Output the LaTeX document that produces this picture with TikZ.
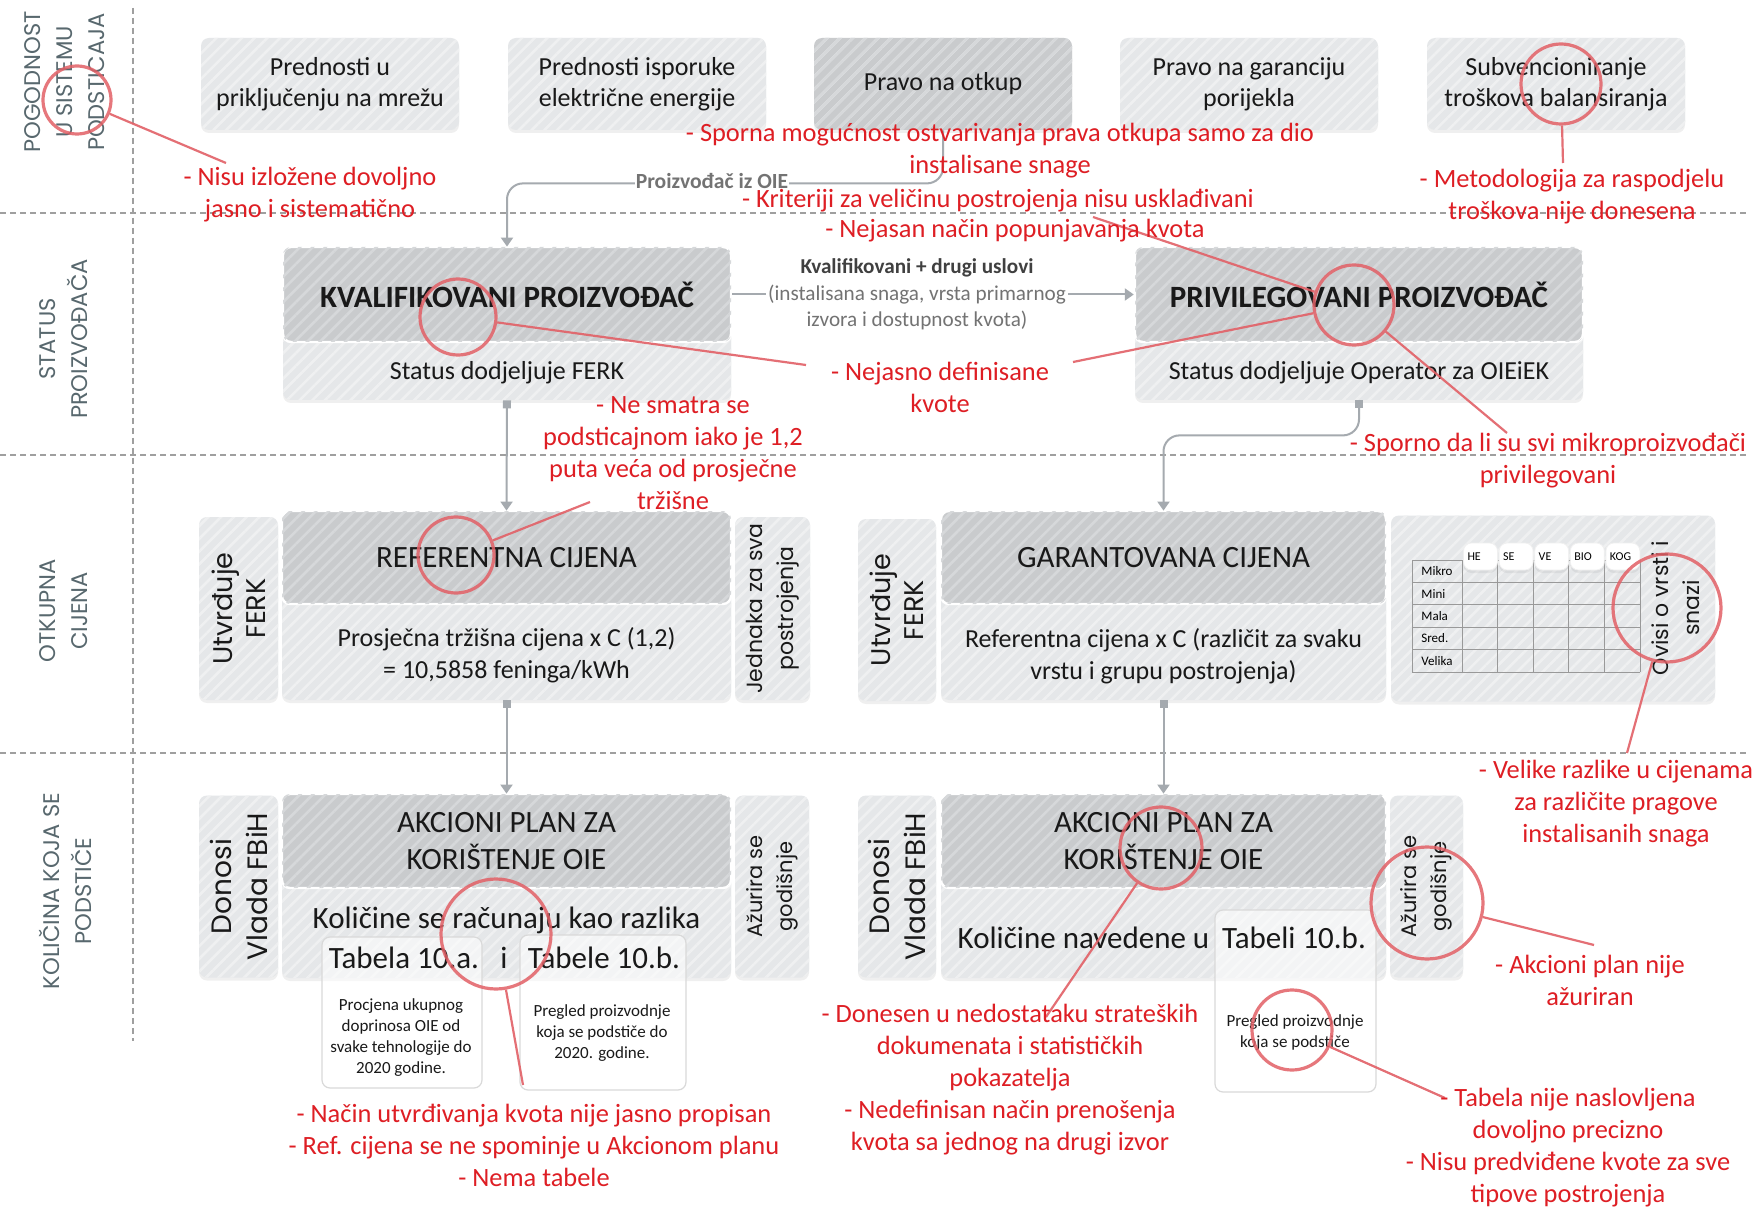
\documentclass[tikz,border=0pt]{standalone}
\usepackage{fontspec}
\setmainfont{Carlito}
\newfontfamily\gothic{Poppins}
\usetikzlibrary{positioning,arrows.meta,patterns.meta,shadows}

\definecolor{boxlight}{RGB}{229,231,233}
\definecolor{boxdark}{RGB}{201,203,205}
\definecolor{stripelight}{RGB}{239,240,241}
\definecolor{stripedark}{RGB}{214,216,218}
\definecolor{notered}{RGB}{222,30,36}
\definecolor{markred}{RGB}{226,96,102}
\definecolor{conngray}{RGB}{165,170,175}
\definecolor{secgray}{RGB}{88,104,110}
\definecolor{midgray}{RGB}{115,115,115}
\definecolor{textdark}{RGB}{25,25,25}

\newcommand{\fsz}[2]{\fontsize{#1}{#2}\selectfont}

\tikzset{
  hatch/.style={postaction={pattern={Lines[angle=45,distance=4.5pt,line width=1.3pt]}, pattern color=#1}},
  soft/.style={drop shadow={shadow xshift=0pt, shadow yshift=-1.5pt, opacity=0.12}},
  lightbox/.style={rounded corners=4pt, fill=boxlight, hatch=stripelight, soft, inner sep=0pt, text=textdark, align=center},
  darkbox/.style={rounded corners=4pt, fill=boxdark, hatch=stripedark, draw=white, line width=1.2pt, inner sep=0pt, text=textdark, align=center},
  topbox/.style={lightbox, minimum width=129pt, minimum height=46pt, font=\fsz{13}{15.7}},
  card/.style={rounded corners=4pt, fill=white, fill opacity=0.55, draw=gray!30, line width=0.6pt, inner sep=0pt},
  big/.style={inner sep=0pt, text=textdark, font=\fsz{15.5}{18}},
  subtext/.style={inner sep=0pt, text=textdark, align=center, font=\fsz{13}{16}},
  tiny/.style={inner sep=0pt, text=textdark, align=center, font=\fsz{8.5}{10.5}},
  sectionlbl/.style={rotate=90, align=center, inner sep=0pt, text=secgray, font=\gothic\fsz{11.3}{16}},
  sidelbl/.style={rotate=90, align=center, inner sep=0pt, text=textdark},
  conn/.style={draw=conngray, line width=1pt, rounded corners=8pt, -{Triangle[width=6pt,length=4.5pt]}},
  sqconn/.style={conn, {Square[length=4pt,width=4pt]}-{Triangle[width=6pt,length=4.5pt]}},
  divider/.style={draw=gray!75, dash pattern=on 3pt off 2pt, line width=0.7pt},
  note/.style={inner sep=0pt, text=notered, align=center, font=\fsz{13.2}{16}},
  ring/.style={circle, draw=markred, draw opacity=0.85, line width=1.6pt, inner sep=0pt},
  callout/.style={draw=markred, draw opacity=0.9, line width=1.1pt},
  gridline/.style={draw=gray!80, line width=0.5pt},
  pill/.style={rounded corners=4pt, fill=white, draw=gray!12, soft, inner sep=2pt, text width=13pt, align=left, minimum height=13.5pt, font=\fsz{6}{7}}
}

\begin{document}
\begin{tikzpicture}[x=0.5pt, y=-0.5pt]
        % Draw paper background
        \fill[white] (0,0) rectangle (1758,1209);
        \useasboundingbox (0,0) rectangle (1758,1209);

        % Draw the dashed dividers
        \draw[divider] (0,213) -- (1748,213);
        \draw[divider] (0,455) -- (1748,455);
        \draw[divider] (0,753) -- (1748,753);
        \draw[divider] (133,8) -- (133,1041);

        % Draw section labels
        \node[sectionlbl] (secPog) at (65,82) {POGODNOST\\U SISTEMU\\PODSTICAJA};
        \node[sectionlbl] (secStat) at (64,339) {STATUS\\PROIZVOĐAČA};
        \node[sectionlbl] (secOtk) at (64,611) {OTKUPNA\\CIJENA};
        \node[sectionlbl] (secKol) at (65,891) {KOLIČINA KOJA SE\\PODSTIČE};

        % Draw benefit boxes
        \node[topbox] (pmreza) at (330,84) {Prednosti u\\priključenju na mrežu};
        \node[topbox] (pisporuka) at (637,84) {Prednosti isporuke\\električne energije};
        \node[topbox, fill=boxdark, hatch=stripedark] (potkup) at (943,84) {Pravo na otkup};
        \node[topbox] (pgarancija) at (1249,84) {Pravo na garanciju\\porijekla};
        \node[topbox] (psubv) at (1556,84) {Subvencioniranje\\troškova balansiranja};

        % Draw producer status
        \node[lightbox, minimum width=224pt, minimum height=76.5pt] (kval) at (507,323.5) {};
        \node[darkbox, minimum width=224pt, minimum height=47.5pt, font=\bfseries\fsz{15.5}{18}] (kvalT) at (507,294.5) {KVALIFIKOVANI PROIZVOĐAČ};
        \node[subtext] (kvalS) at (507,373) {Status dodjeljuje FERK};
        \node[lightbox, minimum width=224pt, minimum height=76.5pt] (priv) at (1359,323.5) {};
        \node[darkbox, minimum width=224pt, minimum height=47.5pt, font=\bfseries\fsz{15.5}{18}] (privT) at (1359,294.5) {PRIVILEGOVANI PROIZVOĐAČ};
        \node[subtext] (privS) at (1359,373) {Status dodjeljuje Operator za OIEiEK};

        % Draw purchase price
        \node[lightbox, rotate=90, minimum width=91.5pt, minimum height=39.5pt, font=\gothic\fsz{13.5}{16.5}] (refL) at (238.5,608.5) {Utvrđuje\\FERK};
        \node[lightbox, minimum width=224.5pt, minimum height=94.5pt] (ref) at (506.5,605.5) {};
        \node[darkbox, minimum width=224.5pt, minimum height=46.5pt, font=\fsz{15.5}{18}] (refT) at (506.5,557.5) {REFERENTNA CIJENA};
        \node[subtext] (refS) at (506.5,655) {Prosječna tržišna cijena x C (1,2)\\= 10,5858 feninga/kWh};
        \node[lightbox, rotate=90, minimum width=91.5pt, minimum height=37.5pt, font=\gothic\fsz{11}{15.5}] (refR) at (772.5,608.5) {Jednaka za sva\\postrojenja};

        \node[lightbox, rotate=90, minimum width=91pt, minimum height=39pt, font=\gothic\fsz{13.5}{16.5}] (garL) at (897,610) {Utvrđuje\\FERK};
        \node[lightbox, minimum width=222.5pt, minimum height=94.5pt] (gar) at (1163.5,605.5) {};
        \node[darkbox, minimum width=222.5pt, minimum height=46.5pt, font=\fsz{15.5}{18}] (garT) at (1163.5,557.5) {GARANTOVANA CIJENA};
        \node[subtext] (garS) at (1163.5,656) {Referentna cijena x C (različit za svaku\\vrstu i grupu postrojenja)};
        \node[lightbox, minimum width=162pt, minimum height=93pt] (garR) at (1553,608.5) {};
        \node[sidelbl, font=\gothic\fsz{11}{15.5}] (ovisi) at (1676,608) {Ovisi o vrsti i\\snazi};

        % Draw price table
        \foreach \yy in {560,582.4,604.8,627.2,649.6,672}
            \draw[gridline] (1412,\yy) -- (1640,\yy);
        \foreach \xx in {1412,1462,1497.6,1533.2,1568.8,1604.4,1640}
            \draw[gridline] (\xx,560) -- (\xx,672);
        \foreach \lbl [count=\i] in {Mikro,Mini,Mala,Sred.,Velika}
            \node[font=\fsz{6.5}{7}, anchor=west, inner sep=0pt] (rw\i) at (1421,{560+22.4*(\i-0.5)}) {\lbl};
        \foreach \lbl [count=\i] in {HE,SE,VE,BIO,KOG}
            \node[pill] (hd\i) at ({1462+35.6*(\i-1)+18.5},556.5) {\lbl};

        % Draw action plans
        \node[lightbox, rotate=90, minimum width=91pt, minimum height=39.5pt, font=\gothic\fsz{14}{18}] (akAL) at (238.5,886.5) {Donosi\\Vlada FBiH};
        \node[lightbox, minimum width=224.5pt, minimum height=92pt] (akA) at (506.5,886) {};
        \node[darkbox, minimum width=224.5pt, minimum height=47pt, font=\fsz{15.5}{18.5}] (akAT) at (506.5,841) {AKCIONI PLAN ZA\\KORIŠTENJE OIE};
        \node[lightbox, rotate=90, minimum width=91pt, minimum height=37pt, font=\gothic\fsz{10.5}{15}] (akAR) at (772,886.5) {Ažurira se\\godišnje};
        \node[card, minimum width=80pt, minimum height=75.5pt] (tabA) at (402,1012.5) {};
        \node[card, minimum width=83pt, minimum height=77.5pt] (tabB) at (603,1012.5) {};
        \node[big] (akAS) at (506.5,920) {Količine se računaju kao razlika};
        \node[big] (tabAt) at (404,958) {Tabela 10.a.};
        \node[big] (andAB) at (504,958) {i};
        \node[big] (tabBt) at (604,958) {Tabele 10.b.};
        \node[tiny] (tabAd) at (401,1038) {Procjena ukupnog\\doprinosa OIE od\\svake tehnologije do\\2020 godine.};
        \node[tiny] (tabBd) at (602,1033) {Pregled proizvodnje\\koja se podstiče do\\2020. godine.};

        \node[lightbox, rotate=90, minimum width=91pt, minimum height=39pt, font=\gothic\fsz{14}{18}] (akBL) at (897,886.5) {Donosi\\Vlada FBiH};
        \node[lightbox, minimum width=222.5pt, minimum height=92pt] (akB) at (1163.5,886) {};
        \node[darkbox, minimum width=222.5pt, minimum height=47pt, font=\fsz{15.5}{18.5}] (akBT) at (1163.5,841) {AKCIONI PLAN ZA\\KORIŠTENJE OIE};
        \node[lightbox, rotate=90, minimum width=91pt, minimum height=36.5pt, font=\gothic\fsz{10.5}{15}] (akBR) at (1426.5,886.5) {Ažurira se\\godišnje};
        \node[card, minimum width=80.5pt, minimum height=91pt] (tabC) at (1295.5,1001) {};
        \node[big] (akBS) at (1083.5,938) {Količine navedene u};
        \node[big] (tabCt) at (1294,938) {Tabeli 10.b.};
        \node[tiny] (tabCd) at (1295,1033) {Pregled proizvodnje\\koja se podstiče};

        % Draw connectors
        \draw[conn] (potkup.south) -- ++(0,53) -| (kval.north);
        \node[fill=white, inner sep=0.5pt, text=midgray, font=\bfseries\fsz{10.8}{13}] (oie) at (712,181) {Proizvođač iz OIE};
        \draw[conn] (kvalT.east) -- (privT.west);
        \node[fill=white, inner sep=1pt, align=center, text=midgray, font=\fsz{10.6}{13.25}] (uslovi) at (917,294.5) {\textbf{\color{darkgray}Kvalifikovani + drugi uslovi}\\(instalisana snaga, vrsta primarnog\\izvora i dostupnost kvota)};
        \draw[sqconn] (kval.south) -- (ref.north);
        \draw[sqconn] (priv.south) -- ++(0,35) -| (gar.north);
        \draw[sqconn] (ref.south) -- (akA.north);
        \draw[sqconn] (gar.south) -- (akB.north);

        % Draw red marks
        \node[ring, minimum size=34pt] (rPog) at (77,100) {};
        \node[ring, minimum size=40pt] (rSubv) at (1561,84) {};
        \node[ring, minimum size=38pt] (rKval) at (458,317) {};
        \node[ring, minimum size=40pt] (rPriv) at (1354,305) {};
        \node[ring, minimum size=38pt] (rRef) at (456,555) {};
        \node[ring, minimum size=54pt] (rOvisi) at (1667,608) {};
        \node[ring, minimum size=55pt] (rRazl) at (496,934) {};
        \node[ring, minimum size=41pt] (rAkc) at (1161,848) {};
        \node[ring, minimum size=56pt] (rAzur) at (1427,903) {};
        \node[ring, minimum size=40pt] (rPregled) at (1292,1030) {};

        \coordinate (ePog) at (226,163);
        \coordinate (eSubv) at (1563,163);
        \coordinate (eKval) at (806,365);
        \coordinate (eKrit) at (1093,217);
        \coordinate (eDef) at (1073,362);
        \coordinate (eMikro) at (1507,433);
        \coordinate (eRef) at (590,502);
        \coordinate (eOvisi) at (1627,753);
        \coordinate (eRazl) at (523,1085);
        \coordinate (eAkc) at (1046,1017);
        \coordinate (eAzur) at (1594,945);
        \coordinate (ePregled) at (1445,1098);

        \draw[callout] (rPog) -- (ePog);
        \draw[callout] (rSubv) -- (eSubv);
        \draw[callout] (rKval) -- (eKval);
        \draw[callout] (rPriv) -- (eKrit);
        \draw[callout] (rPriv) -- (eDef);
        \draw[callout] (rPriv) -- (eMikro);
        \draw[callout] (rRef) -- (eRef);
        \draw[callout] (rOvisi) -- (eOvisi);
        \draw[callout] (rRazl) -- (eRazl);
        \draw[callout] (rAkc) -- (eAkc);
        \draw[callout] (rAzur) -- (eAzur);
        \draw[callout] (rPregled) -- (ePregled);

        % Draw notes
        \node[note] (nPog) at (310,195) {- Nisu izložene dovoljno\\jasno i sistematično};
        \node[note] (nSubv) at (1572,197) {- Metodologija za raspodjelu\\troškova nije donesena};
        \node[note] (nOtkup) at (1000,151) {- Sporna mogućnost ostvarivanja prava otkupa samo za dio\\instalisane snage};
        \node[note] (nKrit) at (998,201) {- Kriteriji za veličinu postrojenja nisu usklađivani};
        \node[note] (nKvote) at (1015,231) {- Nejasan način popunjavanja kvota};
        \node[note] (nDef) at (940,387) {- Nejasno definisane\\kvote};
        \node[note] (nRef) at (673,453) {- Ne smatra se\\podsticajnom iako je 1,2\\puta veća od prosječne\\tržišne};
        \node[note] (nMikro) at (1548,461) {- Sporno da li su svi mikroproizvođači\\privilegovani};
        \node[note] (nVel) at (1616,804) {- Velike razlike u cijenama\\za različite pragove\\instalisanih snaga};
        \node[note] (nAzur) at (1590,980) {- Akcioni plan nije\\ažuriran};
        \node[note] (nDon) at (1010,1080) {- Donesen u nedostataku strateških\\dokumenata i statističkih\\pokazatelja\\- Nedefinisan način prenošenja\\kvota sa jednog na drugi izvor};
        \node[note] (nTab) at (1568,1148) {- Tabela nije naslovljena\\dovoljno precizno\\- Nisu predviđene kvote za sve\\tipove postrojenja};
        \node[note] (nNacin) at (534,1145) {- Način utvrđivanja kvota nije jasno propisan\\- Ref. cijena se ne spominje u Akcionom planu\\- Nema tabele};
    \end{tikzpicture}
\end{document}
